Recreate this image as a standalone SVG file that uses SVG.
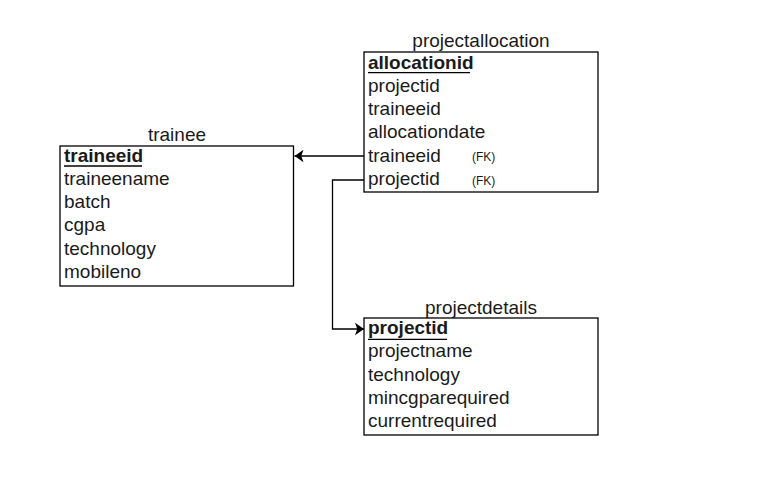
<svg xmlns="http://www.w3.org/2000/svg" width="757" height="487" viewBox="0 0 757 487">
<style>
  text { font-family: "Liberation Sans", Arial, sans-serif; font-size: 19px; fill: #1a1a1a; }
  .title { text-anchor: middle; }
  .pk { font-weight: bold; }
  .fk { font-size: 12px; }
  .box { fill: #ffffff; stroke: #000000; stroke-width: 1.3; }
  .ul { stroke: #000000; stroke-width: 1.3; }
  .conn { fill: none; stroke: #000000; stroke-width: 1.3; }
</style>
<defs>
  <marker id="arrow" viewBox="0 0 10 14" refX="10" refY="7" markerWidth="9" markerHeight="13" markerUnits="userSpaceOnUse" orient="auto">
    <path d="M0,0 L10,7 L0,14 L2.5,7 Z" fill="#000000"/>
  </marker>
</defs>
<rect width="757" height="487" fill="#ffffff"/>
<g id="connectors">
  <path class="conn" d="M364,156 L294.5,156" marker-end="url(#arrow)"/>
  <path class="conn" d="M364,180 L332.5,180 L332.5,329 L364,329" marker-end="url(#arrow)"/>
</g>
<g id="projectallocation">
  <text class="title" x="481" y="47">projectallocation</text>
  <rect class="box" x="364" y="52" width="234" height="140"/>
  <text class="pk" x="368" y="68.5">allocationid</text>
  <line class="ul" x1="368" y1="72.7" x2="470" y2="72.7"/>
  <text x="368" y="91.8">projectid</text>
  <text x="368" y="115.1">traineeid</text>
  <text x="368" y="138.4">allocationdate</text>
  <text x="368" y="161.7">traineeid</text>
  <text class="fk" x="472" y="161">(FK)</text>
  <text x="368" y="185">projectid</text>
  <text class="fk" x="472" y="184.5">(FK)</text>
</g>
<g id="trainee">
  <text class="title" x="177" y="140.7">trainee</text>
  <rect class="box" x="60" y="146" width="233.5" height="140"/>
  <text class="pk" x="64" y="161.7">traineeid</text>
  <line class="ul" x1="64" y1="166" x2="142" y2="166"/>
  <text x="64" y="184.8">traineename</text>
  <text x="64" y="208.1">batch</text>
  <text x="64" y="231.4">cgpa</text>
  <text x="64" y="254.7">technology</text>
  <text x="64" y="278">mobileno</text>
</g>
<g id="projectdetails">
  <text class="title" x="481" y="314">projectdetails</text>
  <rect class="box" x="364" y="318" width="234" height="117"/>
  <text class="pk" x="368" y="334">projectid</text>
  <line class="ul" x1="368" y1="339.3" x2="447" y2="339.3"/>
  <text x="368" y="357.3">projectname</text>
  <text x="368" y="380.6">technology</text>
  <text x="368" y="403.9">mincgparequired</text>
  <text x="368" y="427.2">currentrequired</text>
</g>
</svg>
